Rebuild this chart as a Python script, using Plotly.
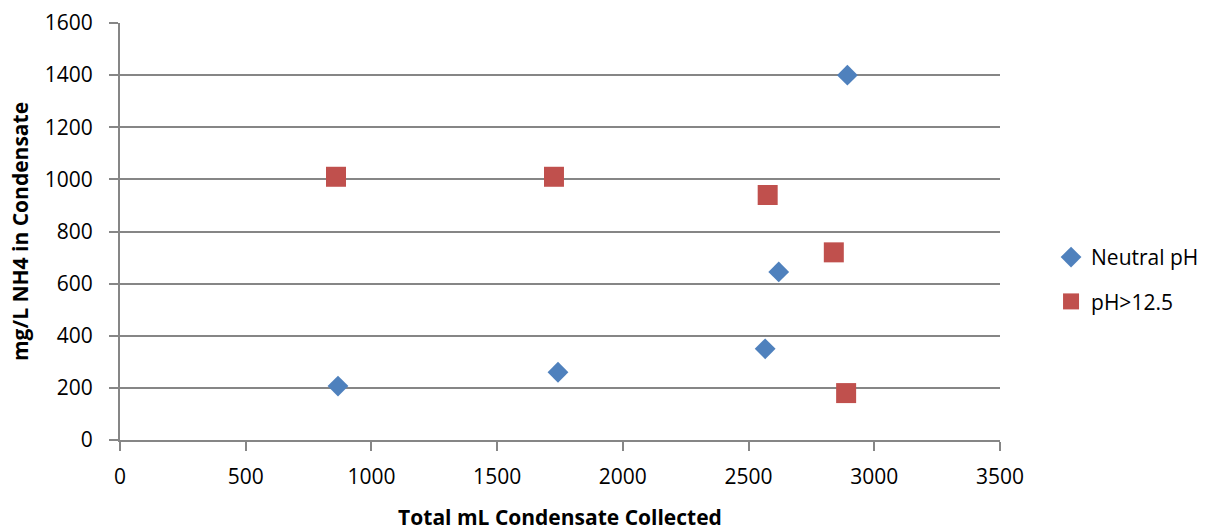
import plotly.graph_objects as go

neutral_x = [867, 1742, 2566, 2620, 2893]
neutral_y = [207, 260, 350, 645, 1400]
high_x = [859, 1726, 2576, 2839, 2888]
high_y = [1010, 1010, 940, 720, 180]

x_ticks = [0, 500, 1000, 1500, 2000, 2500, 3000, 3500]
y_ticks = [0, 200, 400, 600, 800, 1000, 1200, 1400, 1600]

font = "Open Sans, Liberation Sans, sans-serif"

fig = go.Figure()
fig.add_trace(go.Scatter(
    x=neutral_x, y=neutral_y, mode="markers", name="Neutral pH",
    legendgroup="a",
    marker=dict(symbol="diamond", size=16, color="#4F81BD", line=dict(width=0))))
fig.add_trace(go.Scatter(
    x=high_x, y=high_y, mode="markers", name="pH>12.5",
    legendgroup="b",
    marker=dict(symbol="square", size=20, color="#C0504D", line=dict(width=0))))

fig.update_layout(
    width=1210, height=531,
    margin=dict(l=120, r=210, t=23, b=91, autoexpand=False),
    paper_bgcolor="white", plot_bgcolor="white",
    font=dict(family=font, size=21, color="#000"),
    showlegend=True,
    legend=dict(x=1.058, xanchor="left", y=0.385, yanchor="middle",
                font=dict(size=21), tracegroupgap=14, traceorder="grouped",
                itemwidth=30),
    xaxis=dict(range=[0, 3500], tickvals=x_ticks, showgrid=False,
               showline=True, linecolor="#868686", linewidth=2,
               ticks="outside", ticklen=9, tickcolor="#868686", tickwidth=1.5,
               zeroline=False, tickfont=dict(size=21), ticklabelstandoff=8,
               automargin=False,
               title=dict(text="<b>Total mL Condensate Collected</b>", font=dict(size=21), standoff=24)),
    yaxis=dict(range=[0, 1600], tickvals=y_ticks, showgrid=True, gridcolor="#868686",
               gridwidth=1.5, showline=True, linecolor="#868686", linewidth=2,
               ticks="outside", ticklen=9, tickcolor="#868686", tickwidth=1.5,
               zeroline=False, tickfont=dict(size=21), ticklabelstandoff=12,
               automargin=False,
               title=dict(text="<b>mg/L NH4 in Condensate</b>", font=dict(size=21), standoff=10)),
)
fig.write_html("out.html")
